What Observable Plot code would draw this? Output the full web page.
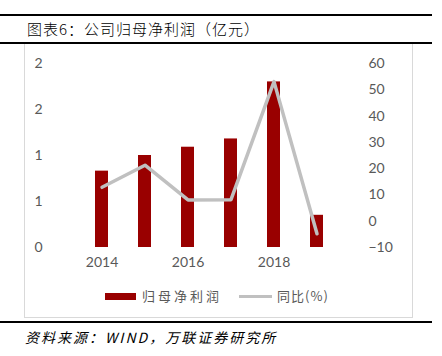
<!DOCTYPE html>
<html><head><meta charset="utf-8">
<script src="https://cdn.jsdelivr.net/npm/d3@7"></script>
<script src="https://cdn.jsdelivr.net/npm/@observablehq/plot@0.6"></script>
<style>
body{margin:0;background:#fff;}
#wrap{position:relative;width:442px;height:356px;overflow:hidden;font-family:"Noto Sans CJK SC",sans-serif;}
.rule{position:absolute;left:0;width:432px;height:2px;background:#000;}
#title{position:absolute;left:27px;top:19px;font-size:15px;color:#000;line-height:20px;letter-spacing:1px;font-weight:300;}
#box{position:absolute;left:24px;top:44px;width:387px;height:273px;border:1px solid #d9d9d9;border-top:none;}
#src{position:absolute;left:25px;top:327px;font-size:14px;font-style:italic;color:#000;line-height:20px;letter-spacing:2px;}
#chart{position:absolute;left:0;top:0;}
#legend{position:absolute;left:105px;top:287px;font-size:13px;color:#595959;display:flex;align-items:center;line-height:18px;}
.sw{display:inline-block;}
</style></head>
<body>
<div id="wrap">
  <div class="rule" style="top:14px"></div>
  <div id="title">图表6：公司归母净利润（亿元）</div>
  <div class="rule" style="top:42px"></div>
  <div id="box"></div>
  <div id="chart"></div>
  <div id="legend">
    <span class="sw" style="width:31px;height:7px;background:#990000;margin-right:6px"></span><span style="letter-spacing:3px">归母净利润</span>
    <span class="sw" style="width:33px;height:3px;background:#c0c0c0;margin-left:17px;margin-right:5px"></span><span style="letter-spacing:1px">同比(%)</span>
  </div>
  <div class="rule" style="top:321px"></div>
  <div id="src">资料来源：WIND，万联证券研究所</div>
</div>
<script>
const years = ["2014","2015","2016","2017","2018","2019"];
const profit = [0.83, 1.00, 1.09, 1.18, 1.80, 0.35];
const growth = [12.9, 21.3, 8.1, 8.2, 53.1, -4.8];
const leftTicks = [0, 0.5, 1, 1.5, 2];
const rightTicks = [-10, 0, 10, 20, 30, 40, 50, 60];
const xTickLabels = ["2014","2016","2018"];

const rMin = -10, rMax = 60, lMax = 2;
const toLeft = v => (v - rMin) / (rMax - rMin) * lMax;
const fromLeft = d => d / lMax * (rMax - rMin) + rMin;

const bars = years.map((y,i)=>({year:y, value:profit[i]}));
const line = years.map((y,i)=>({year:y, value:toLeft(growth[i])}));

const chart = Plot.plot({
  width: 442, height: 356,
  marginTop: 63, marginBottom: 109, marginLeft: 65, marginRight: 88,
  style: {fontFamily: "Lato, 'Noto Sans', sans-serif", fontSize: "14px", color: "#595959", background: "transparent"},
  x: {domain: years, padding: 0.69, label: null},
  y: {domain: [0, lMax], label: null},
  marks: [
    Plot.axisX(xTickLabels, {tickSize: 0, tickPadding: 10, fontSize: 14, label: null}),
    Plot.axisY(leftTicks, {anchor: "left", tickSize: 0, tickPadding: 23, tickFormat: d => String(Math.round(d)), fontSize: 14, label: null}),
    Plot.axisY(rightTicks.map(toLeft), {anchor: "right", tickSize: 0, tickPadding: 14, textAnchor: "start", tickFormat: d => { const v = Math.round(fromLeft(d)); return v < 0 ? "\u2212" + Math.abs(v) : String(v); }, fontSize: 14, label: null}),
    Plot.barY(bars, {x: "year", y: "value", fill: "#990000"}),
    Plot.line(line, {x: "year", y: "value", stroke: "#c0c0c0", strokeWidth: 3.5, strokeLinejoin: "round", strokeLinecap: "round"})
  ]
});
document.getElementById("chart").appendChild(chart);
</script>
</body></html>
